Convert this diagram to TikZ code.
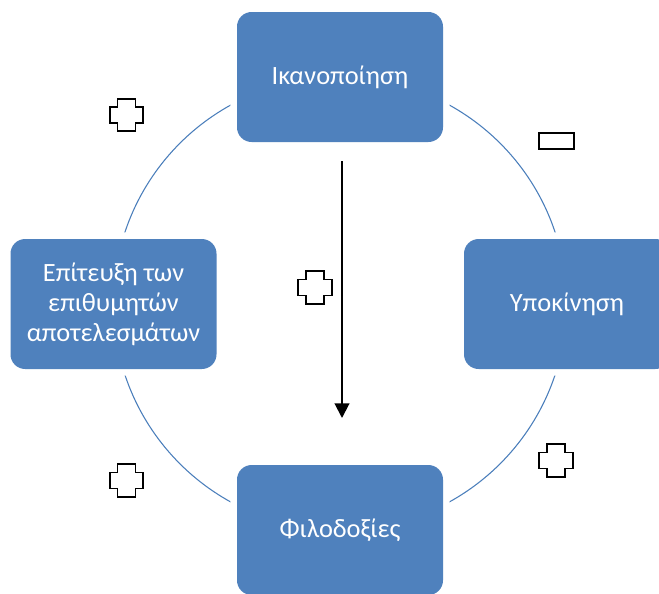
\documentclass[tikz,border=0pt]{standalone}
\usepackage{fontspec}
\setmainfont{Carlito}
\usetikzlibrary{arrows.meta}
\definecolor{boxblue}{HTML}{4F81BD}
\definecolor{ringblue}{HTML}{4A7EBB}

\begin{document}
\begin{tikzpicture}[x=0.75pt,y=-0.75pt]
        \tikzset{stage/.style = {shape=rectangle, rounded corners=11pt, fill=boxblue, text=white, minimum width=154.5pt, minimum height=97.5pt, align=center, font=\fontsize{19.8}{22.5}\selectfont, preaction={draw=white, line width=10pt}}}
        \tikzset{ring/.style = {draw=ringblue, line width=0.8pt}}
        \tikzset{flow/.style = {-{Triangle[width=11pt,length=11pt]}, line width=1.5pt}}
        \tikzset{sign/.style = {draw, line width=1.2pt, miter limit=4}}
        \tikzset{plusmark/.pic = {\draw[sign] (-9,-16.25) -- (9,-16.25) -- (9,-8) -- (16.75,-8) -- (16.75,8) -- (9,8) -- (9,16.25) -- (-9,16.25) -- (-9,8) -- (-16.75,8) -- (-16.75,-8) -- (-9,-8) -- cycle;}}

        \clip (0,0) rectangle (659,593);

        \draw[ring] (340,303.5) circle (169.9pt);

        \node[stage] (satis) at (340,77) {Ικανοποίηση};
        \node[stage] (motiv) at (567,304) {Υποκίνηση};
        \node[stage] (ambit) at (340,530) {Φιλοδοξίες};
        \node[stage] (achieve) at (113.5,304) {Επίτευξη των\\επιθυμητών\\αποτελεσμάτων};

        \coordinate (start) at (342,161);
        \coordinate (end) at (342,418);
        \draw[flow] (start) -- (end);

        \pic at (126.5,115) {plusmark};
        \pic at (315,287.5) {plusmark};
        \pic at (126.5,480.5) {plusmark};
        \pic at (556,460.5) {plusmark};
        \node[sign, minimum width=26.6pt, minimum height=12.4pt, inner sep=0pt] (minus) at (556.5,141) {};
      \end{tikzpicture}
\end{document}
